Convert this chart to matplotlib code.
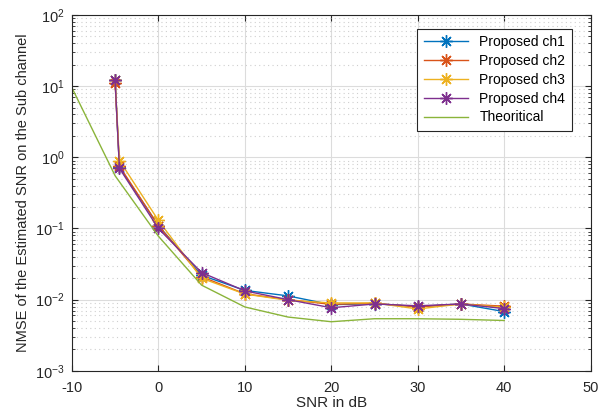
import matplotlib
matplotlib.use("Agg")
import matplotlib.pyplot as plt
from matplotlib.ticker import LogLocator, NullFormatter

plt.rcParams['font.family'] = ['Liberation Sans', 'DejaVu Sans']
plt.rcParams['mathtext.fontset'] = 'custom'
plt.rcParams['mathtext.rm'] = 'Liberation Sans'
plt.rcParams['mathtext.it'] = 'Liberation Sans'
plt.rcParams['axes.unicode_minus'] = False

snr = [-5, -4.5, 0, 5, 10, 15, 20, 25, 30, 35, 40]
ch1 = [12.0, 0.72, 0.11, 0.022, 0.0135, 0.0113, 0.0085, 0.0088, 0.0080, 0.0087, 0.0068]
ch2 = [11.0, 0.75, 0.11, 0.021, 0.0121, 0.0100, 0.0086, 0.0089, 0.0079, 0.0087, 0.0081]
ch3 = [12.0, 0.90, 0.13, 0.020, 0.0120, 0.0098, 0.0090, 0.0090, 0.0074, 0.0087, 0.0078]
ch4 = [12.0, 0.70, 0.10, 0.024, 0.0133, 0.0100, 0.0077, 0.0087, 0.0082, 0.0087, 0.0075]

snr_th = [-10, -5, 0, 5, 10, 15, 20, 25, 30, 35, 40]
theory = [9.5, 0.55, 0.078, 0.016, 0.0079, 0.0057, 0.0049, 0.0054, 0.0054, 0.0053, 0.0051]

labels = ["Proposed ch1", "Proposed ch2", "Proposed ch3", "Proposed ch4"]
colors = ["#0072BD", "#D95319", "#EDB120", "#7E2F8E"]
txt = "#262626"

fig = plt.figure(figsize=(6.04, 4.13), dpi=100)
ax = fig.add_axes([0.119, 0.102, 0.859, 0.862])

# MATLAB-style asterisk marker (8 arms)
for y, lab, c in zip([ch1, ch2, ch3, ch4], labels, colors):
    ax.semilogy(snr, y, marker=(8, 2, 0), color=c, label=lab, lw=1.0,
                ms=9, mew=1.0)
ax.semilogy(snr_th, theory, color="#8AB43A", label="Theoritical", lw=1.0)

ax.set_xlim(-10, 50)
ax.set_ylim(1e-3, 1e2)
ax.set_xticks([-10, 0, 10, 20, 30, 40, 50])
ax.yaxis.set_major_locator(LogLocator(base=10, numticks=10))
ax.yaxis.set_minor_locator(LogLocator(base=10, subs=range(2, 10), numticks=20))
ax.yaxis.set_minor_formatter(NullFormatter())

ax.grid(True, which='major', color='#dcdcdc', lw=0.8)
ax.grid(True, which='minor', axis='y', color='#cfcfcf', ls=(0, (1, 3)), lw=0.8)
ax.set_axisbelow(True)

ax.tick_params(which='both', direction='in', top=True, right=True,
               labelsize=10.5, colors=txt, labelcolor=txt)
ax.tick_params(which='minor', length=2.5)
ax.tick_params(which='major', length=4)
ax.tick_params(axis='x', pad=7)
ax.tick_params(axis='y', pad=5)
for s in ax.spines.values():
    s.set_color(txt)
    s.set_linewidth(0.8)

ax.set_xlabel("SNR in dB", fontsize=11, color=txt, labelpad=1)
ax.set_ylabel("NMSE of the Estimated SNR on the Sub channel", fontsize=10.5,
              color=txt, labelpad=4)

leg = ax.legend(loc='upper right', bbox_to_anchor=(0.963, 0.961), borderaxespad=0,
                fontsize=10, frameon=True, fancybox=False, edgecolor=txt,
                framealpha=1, handlelength=3.2, borderpad=0.45, labelspacing=0.35)
leg.get_frame().set_linewidth(0.8)

fig.savefig("out.png", dpi=100)
